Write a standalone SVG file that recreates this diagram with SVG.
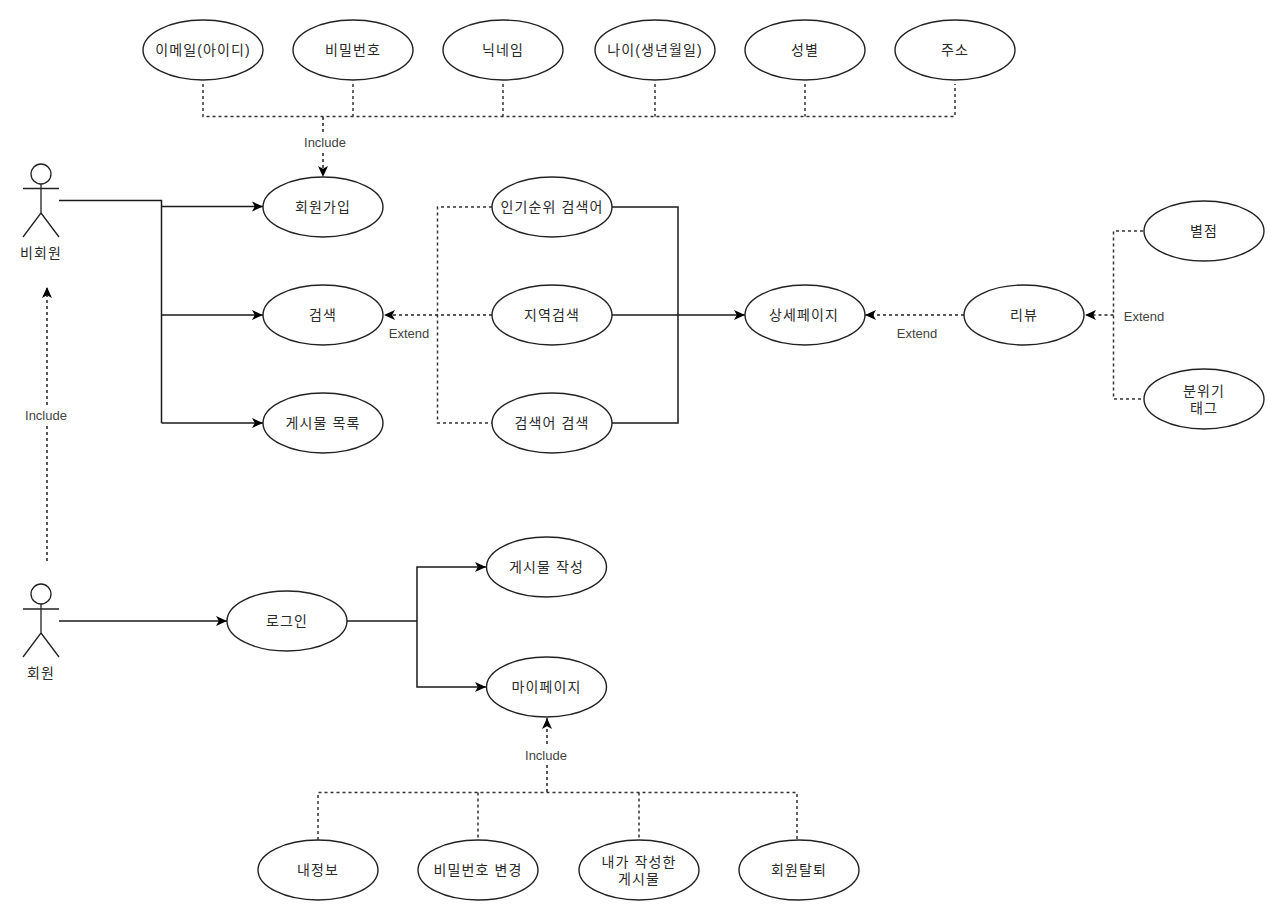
<svg xmlns="http://www.w3.org/2000/svg" width="1280" height="917" viewBox="0 0 1280 917">
<style>
text{font-family:"Liberation Sans","Noto Sans CJK KR",sans-serif;font-size:14px;font-weight:400;letter-spacing:1.1px;fill:#2a2a2a;text-anchor:middle;dominant-baseline:central}
.uc{fill:#fff;stroke:#222;stroke-width:1.4}
.actor{fill:none;stroke:#222;stroke-width:1.3}
.s{fill:none;stroke:#1a1a1a;stroke-width:1.5}
.sa{fill:none;stroke:#1a1a1a;stroke-width:1.5;marker-end:url(#a)}
.d{fill:none;stroke:#333;stroke-width:1.5;stroke-dasharray:3 3}
.da{fill:none;stroke:#222;stroke-width:1.5;stroke-dasharray:3 3;marker-end:url(#a)}
.lb{font-size:13px;letter-spacing:0;fill:#444}
</style>
<defs><marker id="a" markerUnits="userSpaceOnUse" markerWidth="12" markerHeight="12" refX="11" refY="6" orient="auto"><path d="M0 1L11 6L0 11L2.800 6Z" fill="#000"/></marker></defs>
<rect width="1280" height="917" fill="#fff"/>
<g id="connectors">
<path class="d" d="M203 84V116.5H955V84M353 84V116.5M503 84V116.5M655 84V116.5M805 84V116.5"/>
<path class="da" d="M323 117V177"/>
<path class="s" d="M59 200.500H161.500V423"/>
<path class="sa" d="M161.500 206.500H263"/>
<path class="sa" d="M161.500 315H263"/>
<path class="sa" d="M161.500 423H263"/>
<path class="da" d="M47 561V287"/>
<path class="d" d="M492 207H437.500V423H492"/>
<path class="da" d="M492 315H384"/>
<path class="s" d="M612 207H678V423H612"/>
<path class="sa" d="M612 315H745"/>
<path class="da" d="M964 315H865"/>
<path class="d" d="M1143 231H1113.500V399H1143"/>
<path class="da" d="M1113.500 315H1085"/>
<path class="sa" d="M59 621H227"/>
<path class="s" d="M347 621H417"/>
<path class="sa" d="M417 621V567H486"/>
<path class="sa" d="M417 621V687H486"/>
<path class="d" d="M318 840V792.500H797V840M478 792.500V840M639 792.500V840"/>
<path class="da" d="M547 792V718"/>
<rect x="303" y="134" width="44" height="16" fill="#fff"/><text class="lb" x="325" y="142">Include</text>
<rect x="25" y="407" width="44" height="16" fill="#fff"/><text class="lb" x="46" y="415">Include</text>
<rect x="525" y="747" width="44" height="16" fill="#fff"/><text class="lb" x="546" y="755">Include</text>
<text class="lb" x="409" y="333">Extend</text>
<text class="lb" x="917" y="333">Extend</text>
<text class="lb" x="1144" y="316">Extend</text>
</g>
<g id="actor-guest"><circle class="actor" cx="41" cy="174" r="10"/><path class="actor" d="M23 188.500H59M41 184V213L23 237M41 213L59 237"/><text x="41" y="253">비회원</text></g>
<g id="actor-member"><circle class="actor" cx="41" cy="594" r="10"/><path class="actor" d="M23 609H59M41 604V633L23 657M41 633L59 657"/><text x="41" y="673">회원</text></g>
<g id="n-email"><ellipse class="uc" cx="203" cy="50" rx="60" ry="30"/><text x="203" y="50">이메일(아이디)</text></g>
<g id="n-password"><ellipse class="uc" cx="353" cy="50" rx="60" ry="30"/><text x="353" y="50">비밀번호</text></g>
<g id="n-nickname"><ellipse class="uc" cx="503" cy="50" rx="60" ry="30"/><text x="503" y="50">닉네임</text></g>
<g id="n-age"><ellipse class="uc" cx="655" cy="50" rx="60" ry="30"/><text x="655" y="50">나이(생년월일)</text></g>
<g id="n-gender"><ellipse class="uc" cx="805" cy="50" rx="60" ry="30"/><text x="805" y="50">성별</text></g>
<g id="n-address"><ellipse class="uc" cx="955" cy="50" rx="60" ry="30"/><text x="955" y="50">주소</text></g>
<g id="n-signup"><ellipse class="uc" cx="323" cy="207" rx="60" ry="30"/><text x="323" y="207">회원가입</text></g>
<g id="n-search"><ellipse class="uc" cx="323" cy="315" rx="60" ry="30"/><text x="323" y="315">검색</text></g>
<g id="n-list"><ellipse class="uc" cx="323" cy="423" rx="60" ry="30"/><text x="323" y="423">게시물 목록</text></g>
<g id="n-popular"><ellipse class="uc" cx="552" cy="207" rx="60" ry="30"/><text x="552" y="207">인기순위 검색어</text></g>
<g id="n-region"><ellipse class="uc" cx="552" cy="315" rx="60" ry="30"/><text x="552" y="315">지역검색</text></g>
<g id="n-keyword"><ellipse class="uc" cx="552" cy="423" rx="60" ry="30"/><text x="552" y="423">검색어 검색</text></g>
<g id="n-detail"><ellipse class="uc" cx="805" cy="315" rx="60" ry="30"/><text x="804" y="315">상세페이지</text></g>
<g id="n-review"><ellipse class="uc" cx="1024" cy="315" rx="60" ry="30"/><text x="1024" y="315">리뷰</text></g>
<g id="n-star"><ellipse class="uc" cx="1204" cy="231" rx="60" ry="30"/><text x="1204" y="231">별점</text></g>
<g id="n-mood"><ellipse class="uc" cx="1204" cy="399" rx="60" ry="30"/><text x="1204" y="391"><tspan x="1204">분위기</tspan><tspan x="1204" dy="17">태그</tspan></text></g>
<g id="n-login"><ellipse class="uc" cx="287" cy="621" rx="60" ry="30"/><text x="287" y="621">로그인</text></g>
<g id="n-write"><ellipse class="uc" cx="546.500" cy="567" rx="60" ry="30"/><text x="546.500" y="567">게시물 작성</text></g>
<g id="n-mypage"><ellipse class="uc" cx="546.500" cy="687" rx="60" ry="30"/><text x="546.500" y="687">마이페이지</text></g>
<g id="n-info"><ellipse class="uc" cx="318" cy="870" rx="60" ry="30"/><text x="318" y="870">내정보</text></g>
<g id="n-changepw"><ellipse class="uc" cx="478" cy="870" rx="60" ry="30"/><text x="478" y="870">비밀번호 변경</text></g>
<g id="n-myposts"><ellipse class="uc" cx="639" cy="870" rx="60" ry="30"/><text x="639" y="862"><tspan x="639">내가 작성한</tspan><tspan x="639" dy="17">게시물</tspan></text></g>
<g id="n-withdraw"><ellipse class="uc" cx="799" cy="870" rx="60" ry="30"/><text x="799" y="870">회원탈퇴</text></g>
</svg>
